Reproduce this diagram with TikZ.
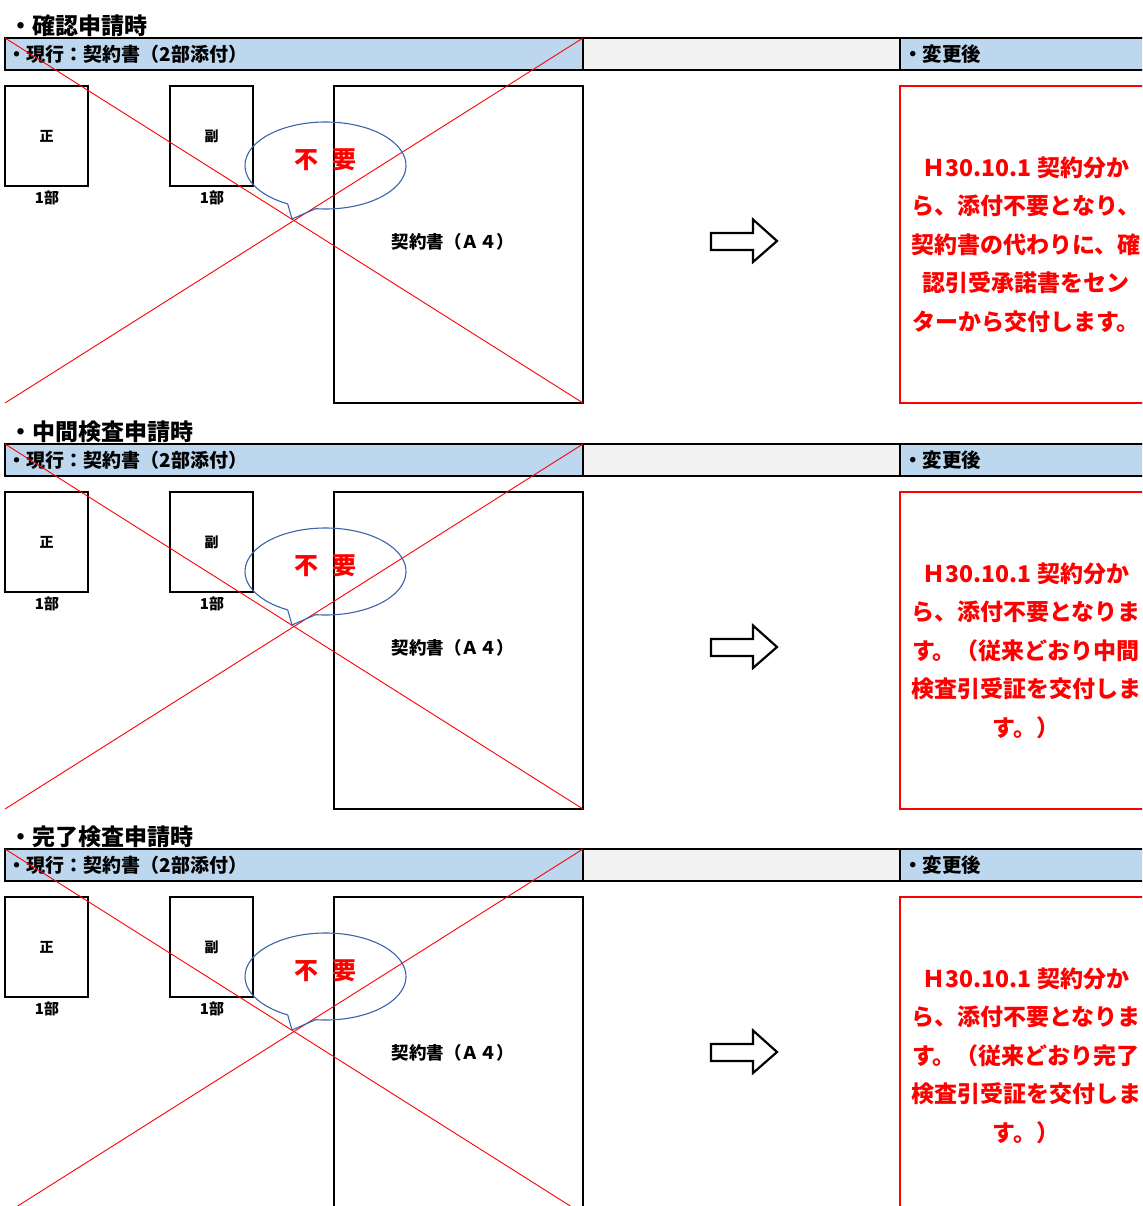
\documentclass[tikz,border=0pt]{standalone}
\usepackage{fontspec}
\setmainfont{Noto Sans CJK JP}
\usetikzlibrary{calc}
\definecolor{hdrblue}{HTML}{BDD7EE}
\definecolor{hdrgray}{HTML}{F2F2F2}
\definecolor{callblue}{HTML}{3B64A8}

\newcommand{\kakuninText}{Ｈ30.10.1 契約分か\\ら、添付不要となり、\\契約書の代わりに、確\\認引受承諾書をセン\\ターから交付します。}
\newcommand{\chukanText}{Ｈ30.10.1 契約分か\\ら、添付不要となりま\\す。（従来どおり中間\\検査引受証を交付しま\\す。）}
\newcommand{\kanryoText}{Ｈ30.10.1 契約分か\\ら、添付不要となりま\\す。（従来どおり完了\\検査引受証を交付しま\\す。）}

\begin{document}
\begin{tikzpicture}[x=1pt,y=-1pt,
  every node/.style={font=\bfseries, inner sep=0pt, outer sep=0pt},
  headcell/.style={draw=black, line width=1.3pt, minimum height=32pt, anchor=north west},
  docbox/.style={draw=black, line width=1.8pt, minimum width=83pt, minimum height=100pt, font=\bfseries\fontsize{14}{16}\selectfont},
  bigbox/.style={draw=black, line width=1.8pt, minimum width=249pt, minimum height=317pt},
  newbox/.style={draw=red, line width=2pt, text=red, minimum width=252pt, minimum height=317pt, align=center, font=\bfseries\fontsize{23}{38.5}\selectfont},
  crossline/.style={red, line width=0.9pt},
  callout/.style={draw=callblue, line width=1.1pt},
  blockarrow/.style={draw=black, fill=white, line width=2.2pt, line join=miter}]
\useasboundingbox (0,0) rectangle (1142,1206);
\clip (0,0) rectangle (1142,1206);
\fill[white] (0,0) rectangle (1142,1206);
\foreach \n/\off/\ttl/\body in {1/0/確認申請時/\kakuninText, 2/406/中間検査申請時/\chukanText, 3/811/完了検査申請時/\kanryoText}{
\begin{scope}[shift={(0,\off)}]
% title and header bar
\node[anchor=west, font=\bfseries\fontsize{23}{26}\selectfont] (ttl\n) at (9.5,26) {・\ttl};
\node[headcell, fill=hdrblue, minimum width=578pt] (cur\n) at (5,38) {};
\node[headcell, fill=hdrgray, minimum width=317pt] (mid\n) at (583,38) {};
\node[headcell, fill=hdrblue, minimum width=260pt] (new\n) at (900,38) {};
\node[anchor=west, font=\bfseries\fontsize{19}{22}\selectfont] (curtxt\n) at (7.5,54) {・現行：契約書（2部添付）};
\node[anchor=west, font=\bfseries\fontsize{19.5}{22}\selectfont] (newtxt\n) at (903,54) {・変更後};
% the documents
\node[docbox] (sei\n) at (46.5,136) {正};
\node[docbox] (fuku\n) at (211.5,136) {副};
\node[font=\bfseries\fontsize{15}{17}\selectfont] (seinum\n) at (47,198.3) {1部};
\node[font=\bfseries\fontsize{15}{17}\selectfont] (fukunum\n) at (212,198.3) {1部};
\node[bigbox] (doc\n) at (458.5,244.5) {};
\node[font=\bfseries\fontsize{17.5}{20}\selectfont] (doctxt\n) at (453,242) {契約書（Ａ４）};
% the red cross
\coordinate (bl\n) at (5,403);
\draw[crossline] (cur\n.north west) -- (doc\n.south east);
\draw[crossline] (cur\n.north east) -- (bl\n);
% the balloon
\coordinate (bc\n) at (325.5,165.5);
\draw[callout] ($(bc\n)+(118:80.5 and 43.5)$) -- (292,219) -- ($(bc\n)+(97:80.5 and 43.5)$) arc[start angle=97, end angle=-242, x radius=80.5, y radius=43.5];
\node[text=red, font=\bfseries\fontsize{24}{26}\selectfont] (fuyo\n) at (325.5,160) {不\hspace{0.55em}要};
% arrow and new rule
\draw[blockarrow] (711,233) -- (753,233) -- (753,219.5) -- (777,241) -- (753,262) -- (753,250) -- (711,250) -- cycle;
\node[newbox] (aft\n) at (1026,244.5) {\body};
\end{scope}
}
\end{tikzpicture}
\end{document}
